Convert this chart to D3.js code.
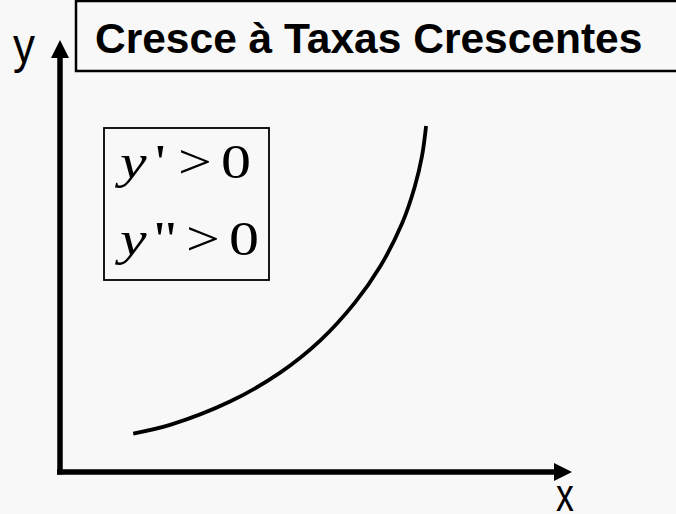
<!DOCTYPE html>
<html>
<head>
<meta charset="utf-8">
<script src="https://cdn.jsdelivr.net/npm/d3@7.9.0/dist/d3.min.js"></script>
<style>
  html, body { margin: 0; padding: 0; background: #f8f8f8; }
  svg { display: block; }
</style>
</head>
<body>
<div id="chart"></div>
<script>
// data (axis units 0..10)
const title = 'Cresce à Taxas Crescentes';
const axisNames = ['x', 'y'];
const primes = ["'", '"'];
const curveX = [1.43, 2.15, 3.32, 4.30, 5.08, 5.76, 6.25, 6.68, 6.93, 7.07, 7.15];
const curveY = [0.89, 1.09, 1.63, 2.30, 3.04, 3.92, 4.75, 5.75, 6.61, 7.31, 8.01];

const width = 676;
const height = 514;

const svg = d3.select('#chart')
    .append('svg')
    .attr('width', width)
    .attr('height', height)
    .attr('viewBox', `0 0 ${width} ${height}`);

svg.append('rect')
    .attr('width', width)
    .attr('height', height)
    .attr('fill', '#f8f8f8');

const xScale = d3.scaleLinear().domain([0, 10]).range([60, 572]);
const yScale = d3.scaleLinear().domain([0, 10]).range([472, 40]);

// axes with arrow heads
const x0 = xScale(0), y0 = yScale(0);
const xEnd = xScale(10), yEnd = yScale(10);

svg.append('line')
    .attr('x1', x0 - 3).attr('y1', y0)
    .attr('x2', xEnd - 16).attr('y2', y0)
    .attr('stroke', '#000')
    .attr('stroke-width', 5.5);

svg.append('line')
    .attr('x1', x0).attr('y1', y0 + 2.5)
    .attr('x2', x0).attr('y2', yEnd + 16)
    .attr('stroke', '#000')
    .attr('stroke-width', 5.5);

svg.append('path')
    .attr('d', `M${xEnd},${y0} L${xEnd - 18},${y0 - 9} L${xEnd - 18},${y0 + 9} Z`)
    .attr('fill', '#000');

svg.append('path')
    .attr('d', `M${x0},${yEnd} L${x0 - 9},${yEnd + 18} L${x0 + 9},${yEnd + 18} Z`)
    .attr('fill', '#000');

// axis names
svg.append('text')
    .attr('transform', 'translate(556,511) scale(0.76,1)')
    .attr('font-family', 'Liberation Sans, Arial, sans-serif')
    .attr('font-size', 47)
    .text(axisNames[0]);

svg.append('text')
    .attr('transform', 'translate(13,63) scale(0.88,1)')
    .attr('font-family', 'Liberation Sans, Arial, sans-serif')
    .attr('font-size', 50)
    .text(axisNames[1]);

// title box
svg.append('rect')
    .attr('x', 76).attr('y', 1)
    .attr('width', 640).attr('height', 70)
    .attr('fill', 'none')
    .attr('stroke', '#000')
    .attr('stroke-width', 2.5);

svg.append('text')
    .attr('x', 95).attr('y', 53)
    .attr('font-family', 'Liberation Sans, Arial, sans-serif')
    .attr('font-weight', 'bold')
    .attr('font-size', 42.5)
    .text(title);

// condition box: y' > 0, y" > 0
svg.append('rect')
    .attr('x', 104).attr('y', 128)
    .attr('width', 165).attr('height', 152)
    .attr('fill', 'none')
    .attr('stroke', '#000')
    .attr('stroke-width', 1.8);

const lineBase = [178, 255];
const primeX = [155, 153];
const gtX = [178, 186];
const zeroX = [221, 229];

primes.forEach((p, i) => {
    const g = svg.append('g')
        .attr('font-family', 'Liberation Serif, Times New Roman, serif')
        .attr('font-size', 48);
    const put = (x, s, italic) => g.append('text')
        .attr('transform', `translate(${x},${lineBase[i]}) scale(1.25,1)`)
        .attr('font-style', italic ? 'italic' : 'normal')
        .text(s);
    put(120, 'y', true);
    put(primeX[i], p, false);
    put(gtX[i], '>', false);
    put(zeroX[i], '0', false);
});

// the curve
const line = d3.line()
    .x((d, i) => xScale(curveX[i]))
    .y((d, i) => yScale(curveY[i]))
    .curve(d3.curveCatmullRom);

svg.append('path')
    .datum(curveX)
    .attr('d', line)
    .attr('fill', 'none')
    .attr('stroke', '#000')
    .attr('stroke-width', 3.8);
</script>
</body>
</html>
